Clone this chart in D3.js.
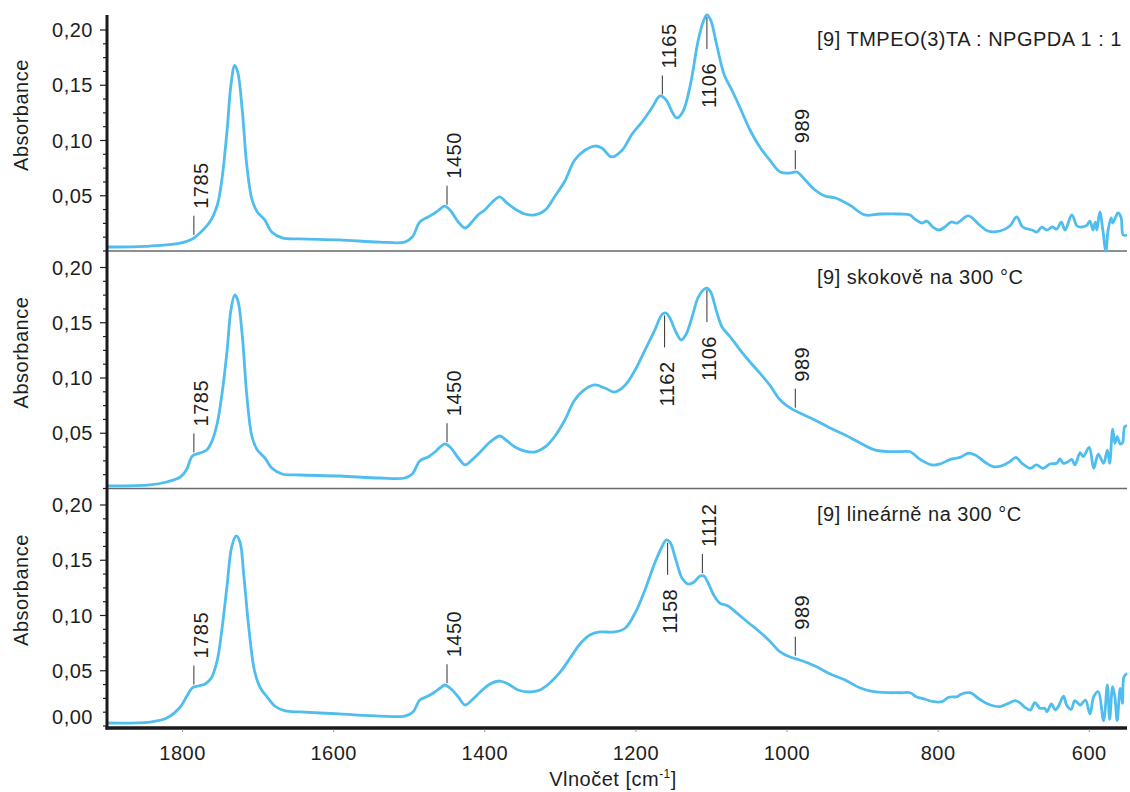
<!DOCTYPE html>
<html>
<head>
<meta charset="utf-8">
<script src="https://cdn.jsdelivr.net/npm/d3@7"></script>
<style>
  html, body { margin: 0; padding: 0; background: #fff; }
  svg text { font-family: "Liberation Sans", Arial, Helvetica, sans-serif; fill: #1e1e1e; letter-spacing: 0.5px; }
</style>
</head>
<body>
<svg id="chart" width="1130" height="792"></svg>
<script>
// ---- data -----------------------------------------------------------------
const panelTitles = [
  "[9] TMPEO(3)TA : NPGPDA 1 : 1",
  "[9] skokově na 300 °C",
  "[9] lineárně na 300 °C"
];
const xTickValues = [1800, 1600, 1400, 1200, 1000, 800, 600];
const yTickValues = [0.05, 0.10, 0.15, 0.20];
const zeroLabelValue = 0.008;   // "0,00" label of the lowest panel
const xTitle = "Vlnočet [cm";
const xTitleSup = "-1";
const yTitle = "Absorbance";

// spectra: [wavenumber cm-1, absorbance]
const spectrumMix = [
  [1900,0.0036],[1843,0.0045],[1803,0.0072],[1787,0.0109],[1777,0.0163],[1764,0.0262],[1754,0.0416],
  [1748,0.0643],[1741,0.1095],[1736,0.150],[1731,0.168],[1727,0.162],[1721,0.1276],[1715,0.0778],
  [1708,0.0462],[1701,0.0353],[1691,0.028],[1682,0.0172],[1668,0.0118],[1645,0.0109],[1592,0.010],
  [1539,0.0081],[1506,0.0081],[1496,0.0127],[1486,0.0262],[1475,0.0308],[1466,0.0344],[1459,0.038],
  [1453,0.0407],[1446,0.0371],[1435,0.0262],[1426,0.0208],[1417,0.0262],[1409,0.0326],[1400,0.0371],
  [1390,0.0443],[1380,0.0489],[1372,0.0443],[1360,0.038],[1347,0.0335],[1334,0.0326],[1320,0.0371],
  [1307,0.0498],[1294,0.0633],[1281,0.0824],[1267,0.0914],[1254,0.095],[1245,0.0932],[1232,0.0851],
  [1218,0.0914],[1205,0.1059],[1192,0.1167],[1179,0.1294],[1168,0.1403],[1160,0.1367],[1152,0.1258],
  [1146,0.1204],[1138,0.1258],[1128,0.150],[1118,0.189],[1111,0.2072],[1106,0.2136],[1101,0.209],
  [1093,0.1864],[1083,0.1593],[1073,0.1457],[1062,0.1294],[1049,0.1095],[1036,0.0941],[1023,0.0824],
  [1009,0.0715],[996,0.0706],[987,0.0715],[976,0.0643],[963,0.0552],[950,0.0498],[936,0.048],
  [917,0.0416],[897,0.0326],[877,0.0335],[850,0.0335],[837,0.0326],[831,0.029],[821,0.0253],
  [815,0.0271],[807,0.0217],[799,0.019],[791,0.0217],[783,0.0262],[775,0.0253],[760,0.0317],
  [745,0.0235],[734,0.0181],[718,0.0181],[705,0.0226],[696,0.0308],[688,0.0217],[676,0.019],
  [669,0.0172],[663,0.0217],[656,0.019],[649,0.0217],[643,0.0199],[637,0.0262],[632,0.019],
  [623,0.0326],[616,0.0226],[610,0.0217],[603,0.0235],[599,0.0271],[595,0.019],[592,0.0262],
  [590,0.019],[586,0.0353],[582,0.019],[578,0.000],[575,0.019],[571,0.0299],[569,0.0253],
  [565,0.0308],[562,0.0344],[558,0.0308],[555,0.0145],[550,0.0145]
];
const spectrumStep = [
  [1900,0.0023],[1843,0.0032],[1821,0.0059],[1803,0.0104],[1795,0.0167],[1787,0.0294],[1777,0.0321],
  [1768,0.0348],[1761,0.043],[1754,0.0593],[1748,0.0846],[1741,0.1253],[1736,0.1615],[1731,0.1751],
  [1727,0.1706],[1721,0.1389],[1715,0.0846],[1708,0.0466],[1701,0.0348],[1691,0.0276],[1682,0.0186],
  [1668,0.0131],[1645,0.0122],[1592,0.0113],[1539,0.0095],[1506,0.0095],[1496,0.0131],[1486,0.0249],
  [1475,0.0285],[1466,0.033],[1459,0.0376],[1453,0.0403],[1446,0.0376],[1435,0.0276],[1426,0.0213],
  [1417,0.0258],[1406,0.033],[1393,0.0421],[1380,0.0475],[1372,0.0439],[1360,0.0376],[1347,0.0339],
  [1334,0.033],[1320,0.0376],[1307,0.0475],[1294,0.062],[1281,0.0801],[1267,0.09],[1254,0.0937],
  [1241,0.0909],[1228,0.0873],[1214,0.0937],[1201,0.1072],[1188,0.1253],[1175,0.1434],[1165,0.1579],
  [1160,0.1588],[1155,0.1543],[1147,0.1416],[1140,0.1344],[1134,0.1389],[1126,0.1543],[1118,0.1724],
  [1111,0.1796],[1106,0.1814],[1101,0.1778],[1093,0.1597],[1086,0.1462],[1075,0.1371],[1062,0.1253],
  [1049,0.1145],[1036,0.1045],[1023,0.0937],[1009,0.0801],[996,0.0729],[983,0.0683],[963,0.062],
  [943,0.0548],[923,0.0484],[903,0.0412],[883,0.0348],[850,0.0333],[837,0.0333],[824,0.0264],
  [808,0.0213],[797,0.0222],[784,0.0264],[771,0.0282],[760,0.0319],[751,0.0303],[736,0.0228],
  [727,0.0197],[716,0.0204],[705,0.0243],[697,0.0282],[689,0.0228],[678,0.0183],[670,0.0213],
  [661,0.0183],[652,0.0222],[643,0.0228],[639,0.0267],[634,0.0228],[628,0.0243],[623,0.0264],
  [619,0.0213],[612,0.0324],[608,0.0288],[600,0.0373],[594,0.0183],[588,0.0312],[581,0.0228],
  [576,0.0348],[573,0.0228],[569,0.0536],[566,0.0409],[563,0.0469],[559,0.0403],[556,0.0414],
  [553,0.0559],[550,0.0566]
];
const spectrumLinear = [
  [1900,0.0027],[1843,0.0036],[1821,0.0072],[1803,0.0172],[1795,0.0262],[1787,0.0344],[1779,0.0362],
  [1770,0.038],[1762,0.0434],[1754,0.0597],[1748,0.0869],[1741,0.1276],[1735,0.162],[1729,0.172],
  [1724,0.1665],[1719,0.1367],[1712,0.0869],[1705,0.0507],[1697,0.0344],[1688,0.0262],[1678,0.0181],
  [1664,0.0136],[1645,0.0127],[1592,0.0109],[1539,0.009],[1506,0.009],[1495,0.0127],[1486,0.0235],
  [1475,0.0271],[1466,0.0308],[1459,0.0344],[1453,0.0371],[1446,0.0344],[1435,0.0262],[1426,0.019],
  [1417,0.0235],[1406,0.0308],[1393,0.038],[1380,0.0407],[1369,0.038],[1356,0.0326],[1340,0.0308],
  [1327,0.0326],[1314,0.0389],[1300,0.0489],[1287,0.0615],[1274,0.0742],[1261,0.0824],[1248,0.0851],
  [1228,0.0851],[1214,0.0887],[1201,0.1023],[1188,0.1231],[1175,0.1475],[1165,0.1629],[1160,0.1683],
  [1155,0.1665],[1147,0.1502],[1139,0.1339],[1131,0.1285],[1123,0.1303],[1115,0.1357],[1110,0.1357],
  [1105,0.1303],[1097,0.1186],[1089,0.1113],[1078,0.1086],[1065,0.1014],[1049,0.0923],[1036,0.0851],
  [1023,0.0769],[1009,0.067],[996,0.0624],[983,0.0597],[963,0.0543],[943,0.0471],[923,0.0416],
  [903,0.0344],[883,0.0308],[850,0.0301],[837,0.0301],[829,0.0265],[817,0.0242],[806,0.022],
  [795,0.022],[786,0.026],[775,0.0265],[769,0.029],[758,0.0301],[745,0.0242],[734,0.0199],
  [718,0.0175],[707,0.0205],[698,0.0229],[692,0.0211],[685,0.0169],[678,0.0145],[672,0.0211],
  [665,0.016],[659,0.016],[656,0.0129],[650,0.0199],[645,0.0145],[641,0.0175],[634,0.0271],
  [630,0.019],[624,0.0151],[619,0.0229],[612,0.019],[605,0.0235],[599,0.0109],[594,0.0265],
  [588,0.031],[581,0.0048],[576,0.0371],[573,0.0061],[569,0.0356],[566,0.026],[563,0.0048],
  [559,0.0341],[556,0.0205],[554,0.0446],[550,0.0477]
];
const spectra = [spectrumMix, spectrumStep, spectrumLinear];

// band labels: panel index, wavenumber, placement relative to the curve
const bandLabels = [
  { panel: 0, w: 1785, dir: "up" },
  { panel: 0, w: 1450, dir: "up" },
  { panel: 0, w: 1165, dir: "up" },
  { panel: 0, w: 1106, dir: "down" },
  { panel: 0, w: 989,  dir: "up" },
  { panel: 1, w: 1785, dir: "up" },
  { panel: 1, w: 1450, dir: "up" },
  { panel: 1, w: 1162, dir: "down" },
  { panel: 1, w: 1106, dir: "down" },
  { panel: 1, w: 989,  dir: "up" },
  { panel: 2, w: 1785, dir: "up" },
  { panel: 2, w: 1450, dir: "up" },
  { panel: 2, w: 1158, dir: "down" },
  { panel: 2, w: 1112, dir: "up" },
  { panel: 2, w: 989,  dir: "up" }
];

// ---- layout ---------------------------------------------------------------
const svg = d3.select("#chart");
const plotLeft = 107, plotRight = 1127;
const panelBottoms = [251, 488.5, 726];
const plotTop = 15;
const pxPerUnit = 1105;
const lineColor = "#4fbdee";
const fontSize = 20;

const x = d3.scaleLinear().domain([1900, 550]).range([plotLeft, plotRight]);
const yScales = panelBottoms.map(b =>
  d3.scaleLinear().domain([0, 0.2]).range([b, b - 0.2 * pxPerUnit]));

const commaFmt = v => d3.format(".2f")(v).replace(".", ",");

function valueAt(data, w) {
  for (let i = 0; i < data.length - 1; i++) {
    const a = data[i], b = data[i + 1];
    if (w <= a[0] && w >= b[0]) {
      const t = (a[0] - w) / (a[0] - b[0]);
      return a[1] + t * (b[1] - a[1]);
    }
  }
  return data[data.length - 1][1];
}

// ---- panel separators -------------------------------------------------------
panelBottoms.slice(0, 2).forEach(b => {
  svg.append("line")
    .attr("x1", plotLeft).attr("x2", plotRight)
    .attr("y1", b).attr("y2", b)
    .attr("stroke", "#6a6a6a").attr("stroke-width", 1.5);
});

// ---- spectra ----------------------------------------------------------------
spectra.forEach((data, i) => {
  const y = yScales[i];
  const line = d3.line()
    .x(d => x(d[0])).y(d => y(d[1]))
    .curve(d3.curveCatmullRom.alpha(0.5));
  svg.append("path")
    .datum(data)
    .attr("fill", "none")
    .attr("stroke", lineColor)
    .attr("stroke-width", 2.8)
    .attr("stroke-linejoin", "round")
    .attr("d", line);
});

// ---- band labels ------------------------------------------------------------
bandLabels.forEach(a => {
  const y = yScales[a.panel];
  const px = x(a.w);
  const yc = y(valueAt(spectra[a.panel], a.w));
  let y1, y2, ty, anchor, dx;
  if (a.dir === "up") {
    y1 = yc - 3; y2 = yc - 22; ty = y2 - 7; anchor = "start"; dx = 7;
  } else {
    y1 = yc + 2; y2 = yc + 34; ty = y2 + 14; anchor = "end"; dx = 2;
  }
  svg.append("line")
    .attr("x1", px).attr("x2", px).attr("y1", y1).attr("y2", y2)
    .attr("stroke", "#333").attr("stroke-width", 1);
  svg.append("text")
    .attr("transform", `translate(${px + dx},${ty}) rotate(-90)`)
    .attr("text-anchor", anchor)
    .attr("dy", "0.35em")
    .attr("font-size", fontSize)
    .text(String(a.w));
});

// ---- panel titles -------------------------------------------------------------
panelTitles.forEach((t, i) => {
  svg.append("text")
    .attr("x", 817).attr("y", panelBottoms[i] - 205)
    .attr("font-size", fontSize)
    .text(t);
});

// ---- y axes ---------------------------------------------------------------------
const minorTicks = d3.range(0, 0.2001, 0.0125);
yScales.forEach((y, i) => {
  const g = svg.append("g");
  minorTicks.forEach(v => {
    const major = yTickValues.some(m => Math.abs(m - v) < 1e-6);
    g.append("line")
      .attr("x1", plotLeft - (major ? 7 : 4)).attr("x2", plotLeft)
      .attr("y1", y(v)).attr("y2", y(v))
      .attr("stroke", "#222").attr("stroke-width", 1.2);
  });
  yTickValues.forEach(v => {
    g.append("text")
      .attr("x", 93).attr("y", y(v)).attr("dy", "0.35em")
      .attr("text-anchor", "end").attr("font-size", fontSize)
      .text(commaFmt(v));
  });
  if (i === 2) {
    g.append("text")
      .attr("x", 93).attr("y", y(zeroLabelValue)).attr("dy", "0.35em")
      .attr("text-anchor", "end").attr("font-size", fontSize)
      .text(commaFmt(0));
  }
  g.append("text")
    .attr("transform", `translate(21,${y(0.123)}) rotate(-90)`)
    .attr("text-anchor", "middle").attr("dy", "0.35em")
    .attr("font-size", fontSize)
    .text(yTitle);
});

// left axis spine
svg.append("line")
  .attr("x1", plotLeft).attr("x2", plotLeft)
  .attr("y1", plotTop).attr("y2", panelBottoms[2] + 3.5)
  .attr("stroke", "#1a1a1a").attr("stroke-width", 3);

// ---- x axis ----------------------------------------------------------------------
const xAxisY = panelBottoms[2] + 2;
svg.append("line")
  .attr("x1", plotLeft - 1.5).attr("x2", plotRight)
  .attr("y1", xAxisY).attr("y2", xAxisY)
  .attr("stroke", "#1a1a1a").attr("stroke-width", 3.5);

xTickValues.forEach(v => {
  svg.append("line")
    .attr("x1", x(v)).attr("x2", x(v))
    .attr("y1", xAxisY + 1.5).attr("y2", xAxisY + 4)
    .attr("stroke", "#999").attr("stroke-width", 1);
  svg.append("text")
    .attr("x", x(v)).attr("y", 760)
    .attr("text-anchor", "middle").attr("font-size", fontSize)
    .text(String(v));
});

const xt = svg.append("text")
  .attr("x", 613).attr("y", 786)
  .attr("text-anchor", "middle").attr("font-size", fontSize);
xt.append("tspan").text(xTitle);
xt.append("tspan").attr("font-size", 12).attr("dy", -8).text(xTitleSup);
xt.append("tspan").attr("dy", 8).text("]");
</script>
</body>
</html>
